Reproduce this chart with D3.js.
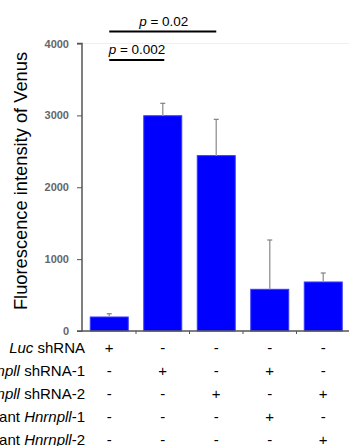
<!DOCTYPE html>
<html><head><meta charset="utf-8">
<script src="https://cdn.jsdelivr.net/npm/d3@7"></script>
<style>body{margin:0;background:#fff;}svg{display:block;font-family:Arial,"Liberation Sans",Helvetica,sans-serif;}</style>
</head><body><div id="chart"></div>
<script>
const categories = ["G1","G2","G3","G4","G5"];
const values = [195, 2995, 2440, 580, 682];
const errors = [45, 173, 505, 686, 125];
const yTicks = [0, 1000, 2000, 3000, 4000];
const rowLabels = [
  [{t:"Luc",i:true},{t:" shRNA",i:false}],
  [{t:"Hnrnpll",i:true},{t:" shRNA-1",i:false}],
  [{t:"Hnrnpll",i:true},{t:" shRNA-2",i:false}],
  [{t:"Resistant ",i:false},{t:"Hnrnpll",i:true},{t:"-1",i:false}],
  [{t:"Resistant ",i:false},{t:"Hnrnpll",i:true},{t:"-2",i:false}]
];
const signs = [
  ["+","-","-","-","-"],
  ["-","+","-","+","-"],
  ["-","-","+","-","+"],
  ["-","-","-","+","-"],
  ["-","-","-","-","+"]
];
const sigs = [
  {from:0, to:2, label:"0.02", level:0},
  {from:0, to:1, label:"0.002", level:1}
];

const W=349,H=446;
const svg=d3.select("#chart").append("svg").attr("width",W).attr("height",H);
const x=d3.scaleBand().domain(categories).range([82.5,350]).paddingInner(0.29).paddingOuter(0.145);
const y=d3.scaleLinear().domain([0,4000]).range([331,43.5]);

// faint gridline at top
svg.append("line").attr("x1",82).attr("x2",W).attr("y1",y(4000)).attr("y2",y(4000))
  .attr("stroke","#eeeeee").attr("stroke-width",1);

// bars
svg.selectAll("rect.bar").data(values).join("rect").attr("class","bar")
  .attr("x",(d,i)=>x(categories[i])).attr("width",x.bandwidth())
  .attr("y",d=>y(d)).attr("height",d=>y(0)-y(d))
  .attr("fill","#0000ff").attr("stroke","#3a3aff").attr("stroke-width",1);

// error bars
const eg=svg.append("g");
values.forEach((v,i)=>{
  const cx=x(categories[i])+x.bandwidth()/2;
  eg.append("line").attr("x1",cx).attr("x2",cx).attr("y1",y(v)).attr("y2",y(v+errors[i]))
    .attr("stroke","#a0a0a0").attr("stroke-width",1.5);
  eg.append("line").attr("x1",cx-2.5).attr("x2",cx+2.5).attr("y1",y(v+errors[i])).attr("y2",y(v+errors[i]))
    .attr("stroke","#808080").attr("stroke-width",1.2);
});

// y axis
const ya=svg.append("g").attr("transform","translate(82,0)")
  .call(d3.axisLeft(y).tickValues(yTicks).tickSize(5).tickPadding(8).tickFormat(d3.format("d")));
ya.select(".domain").attr("stroke","#555").attr("stroke-width",1.5).attr("d","M-5,"+y(4000)+"H0V"+y(0)+"H-5");
ya.selectAll(".tick line").attr("stroke","#555");
ya.selectAll(".tick text").attr("fill","#666").attr("font-size","11px").attr("font-weight","bold")
  .attr("font-family","Arial,'Liberation Sans',sans-serif");

// x axis baseline with boundary ticks
const xa=svg.append("g").attr("transform","translate(0,"+y(0)+")");
xa.append("line").attr("x1",82).attr("x2",W).attr("y1",0).attr("y2",0).attr("stroke","#555").attr("stroke-width",1.5);
categories.slice(1).forEach(c=>{
  const bx=x(c)-x.step()*x.paddingInner()/2;
  xa.append("line").attr("x1",bx).attr("x2",bx).attr("y1",0).attr("y2",3).attr("stroke","#555").attr("stroke-width",1);
});

// y title
svg.append("text").attr("transform","translate(27,181) rotate(-90)").attr("text-anchor","middle")
  .attr("font-size","18.3px").attr("fill","#000").text("Fluorescence intensity of Venus");

// condition rows
rowLabels.forEach((parts,r)=>{
  const yy=353+r*23;
  const t=svg.append("text").attr("x",85).attr("y",yy).attr("text-anchor","end").attr("font-size","15px").attr("fill","#000");
  parts.forEach(p=>t.append("tspan").attr("font-style",p.i?"italic":"normal").text(p.t));
  signs[r].forEach((s,i)=>{
    const cx=x(categories[i])+x.bandwidth()/2;
    svg.append("text").attr("x",cx).attr("y",yy).attr("text-anchor","middle").attr("font-size","15px").text(s);
  });
});

// significance
sigs.forEach(s=>{
  const x1=x(categories[s.from])+x.bandwidth()/2;
  const x2=x(categories[s.to])+x.bandwidth()/2;
  const ly= s.level===0 ? 31.5 : 60;
  svg.append("line").attr("x1",x1).attr("x2",x2+ (s.level===1?1.5:0)).attr("y1",ly).attr("y2",ly)
    .attr("stroke","#000").attr("stroke-width",2);
  const t=svg.append("text").attr("x",(x1+x2)/2+1).attr("y",ly-6).attr("text-anchor","middle").attr("font-size","13.5px");
  t.append("tspan").attr("font-style","italic").text("p");
  t.append("tspan").text(" = "+s.label);
});
</script></body></html>
